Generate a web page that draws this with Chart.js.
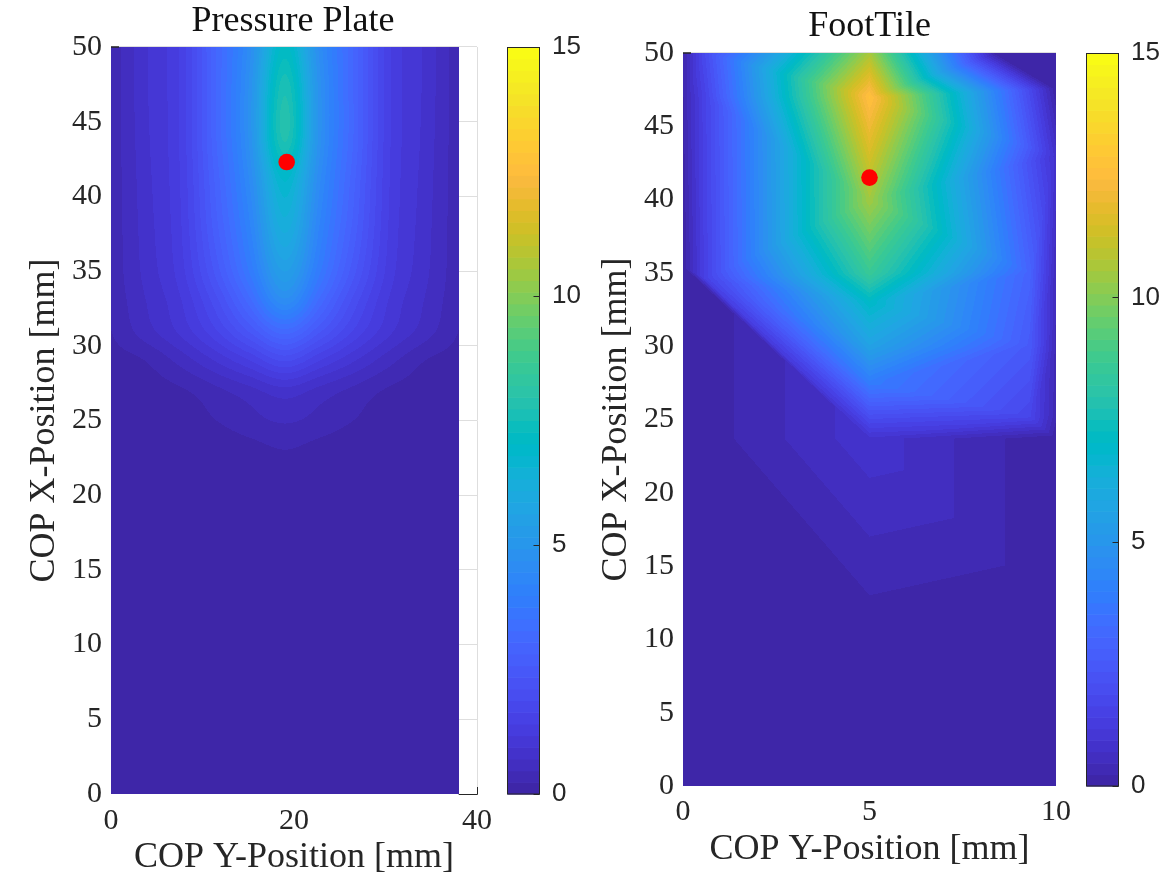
<!DOCTYPE html>
<html>
<head>
<meta charset="utf-8">
<script src="https://cdn.jsdelivr.net/npm/chart.js@4.4.1/dist/chart.umd.min.js"></script>
<style>
  html, body { margin: 0; padding: 0; background: #fff; overflow: hidden; }
  #wrap { position: relative; width: 1172px; height: 879px; }
  canvas { position: absolute; top: 0; }
  #plate { left: 0; }
  #foot { left: 567px; }
</style>
</head>
<body>
<div id="wrap">
  <canvas id="plate" width="586" height="879"></canvas>
  <canvas id="foot" width="605" height="879"></canvas>
</div>
<script>
// ---- data ----
const colorLimits = [0, 15];
const colorTicks = [0, 5, 10, 15];

// pressure plate grid: columns = COP Y-position, rows = COP X-position
const plateCols = [0, 3.8, 7.6, 11.4, 15.2, 19, 22.8, 26.6, 30.4, 34.2, 38];
const plateRows = [0, 10, 20, 23, 25, 27, 29, 31, 33, 35, 38, 41, 44, 47, 50];
const plateValues = [
    [0, 0, 0, 0, 0, 0, 0, 0, 0, 0, 0],
    [0, 0, 0, 0, 0, 0, 0, 0, 0, 0, 0],
    [0, 0, 0, 0, 0.02, 0.05, 0.02, 0, 0, 0, 0],
    [0, 0, 0.02, 0.08, 0.15, 0.23, 0.15, 0.08, 0.02, 0, 0],
    [0, 0.05, 0.1, 0.23, 0.38, 0.5, 0.38, 0.23, 0.1, 0.05, 0],
    [0.05, 0.12, 0.2, 0.4, 0.62, 0.85, 0.62, 0.4, 0.2, 0.12, 0.05],
    [0.12, 0.24, 0.55, 0.95, 1.4, 1.9, 1.4, 0.95, 0.55, 0.24, 0.12],
    [0.23, 0.6, 1.0, 1.6, 2.4, 3.2, 2.4, 1.6, 1.0, 0.6, 0.23],
    [0.28, 0.7, 1.15, 2.0, 3.2, 4.6, 3.2, 2.0, 1.15, 0.7, 0.28],
    [0.3, 0.78, 1.3, 2.4, 3.8, 5.4, 3.8, 2.4, 1.3, 0.78, 0.3],
    [0.3, 0.82, 1.38, 2.7, 4.2, 6.2, 4.2, 2.7, 1.38, 0.82, 0.3],
    [0.3, 0.85, 1.42, 2.85, 4.5, 6.8, 4.5, 2.85, 1.42, 0.85, 0.3],
    [0.3, 0.88, 1.45, 3.0, 4.8, 7.8, 4.8, 3.0, 1.45, 0.88, 0.3],
    [0.3, 0.9, 1.45, 3.0, 4.8, 7.7, 4.8, 3.0, 1.45, 0.9, 0.3],
    [0.3, 0.9, 1.45, 3.0, 4.6, 7.1, 4.6, 3.0, 1.45, 0.9, 0.3]
];
const plateCop = [{x: 19.2, y: 42.3}];

// foottile sensor nodes (linear interpolation over triangles)
const footX = [0, 5, 10, 5, 10, 0, 5, 10, 0, 5, 9.3, 10, 5, 5, 9.3, 10, 5, 5, 9.3, 10, 5, 0, 5, 10, 10, 0, 5, 8.4, 10, 0.6, 0.6, 0.6];
const footY = [0, 0, 0, 9, 11.8, 23.7, 23.7, 23.7, 35.4, 25.2, 25.2, 25.2, 27.5, 30, 30, 30, 33, 35, 35, 35, 40, 47, 47, 43, 47.6, 50, 50, 50, 50, 34.6, 47, 50];
const footV = [0, 0, 0, 0, 0, 0, 0.86, 0, 0, 2.0, 1.7, 0.3, 3.9, 5.6, 2.5, 0.4, 7.0, 8.6, 2.9, 0.5, 10.5, 0.2, 12.7, 0.8, 0, 0.2, 10.6, 0, 0, 1.5, 1.6, 1.9];
const footTris = [
    [0, 1, 3], [0, 3, 5], [5, 3, 6],
    [1, 2, 4], [1, 4, 3], [3, 4, 6], [6, 4, 7],
    [5, 6, 8],
    [8, 6, 29], [29, 6, 9], [29, 9, 12], [29, 12, 13], [29, 13, 16], [29, 16, 17], [29, 17, 20], [29, 20, 30],
    [8, 29, 21], [21, 29, 30], [21, 30, 31], [21, 31, 25],
    [30, 20, 22], [30, 22, 31], [31, 22, 26],
    [6, 7, 10], [6, 10, 9], [7, 11, 10],
    [9, 10, 12], [12, 10, 14], [12, 14, 13],
    [10, 11, 15], [10, 15, 14],
    [13, 14, 16], [16, 14, 18], [16, 18, 17],
    [14, 15, 19], [14, 19, 18],
    [17, 18, 20], [18, 19, 23], [18, 23, 20],
    [20, 23, 22], [22, 23, 24],
    [22, 24, 27], [22, 27, 26], [27, 24, 28]
];
const footCop = [{x: 5.0, y: 41.5}];

// parula, 64 steps
const parula = [
    [0.2422,0.1504,0.6603],[0.2504,0.1650,0.7076],[0.2578,0.1818,0.7511],[0.2647,0.1978,0.7952],
    [0.2706,0.2147,0.8364],[0.2751,0.2342,0.8710],[0.2783,0.2559,0.8991],[0.2803,0.2782,0.9221],
    [0.2813,0.3006,0.9414],[0.2810,0.3228,0.9579],[0.2795,0.3447,0.9717],[0.2760,0.3667,0.9829],
    [0.2699,0.3892,0.9906],[0.2602,0.4123,0.9952],[0.2440,0.4358,0.9988],[0.2206,0.4603,0.9973],
    [0.1963,0.4847,0.9892],[0.1834,0.5074,0.9798],[0.1786,0.5289,0.9682],[0.1764,0.5499,0.9520],
    [0.1687,0.5703,0.9359],[0.1540,0.5902,0.9218],[0.1460,0.6091,0.9079],[0.1380,0.6276,0.8973],
    [0.1248,0.6459,0.8883],[0.1113,0.6635,0.8763],[0.0952,0.6798,0.8598],[0.0689,0.6948,0.8394],
    [0.0297,0.7082,0.8163],[0.0036,0.7203,0.7917],[0.0067,0.7312,0.7660],[0.0433,0.7411,0.7394],
    [0.0964,0.7500,0.7120],[0.1408,0.7584,0.6842],[0.1717,0.7670,0.6554],[0.1938,0.7758,0.6251],
    [0.2161,0.7843,0.5923],[0.2470,0.7918,0.5567],[0.2906,0.7973,0.5188],[0.3406,0.8008,0.4789],
    [0.3909,0.8029,0.4354],[0.4456,0.8024,0.3909],[0.5044,0.7993,0.3480],[0.5616,0.7942,0.3045],
    [0.6174,0.7876,0.2612],[0.6720,0.7793,0.2227],[0.7242,0.7698,0.1910],[0.7738,0.7598,0.1646],
    [0.8203,0.7498,0.1535],[0.8634,0.7406,0.1596],[0.9035,0.7330,0.1774],[0.9393,0.7288,0.2100],
    [0.9728,0.7298,0.2394],[0.9956,0.7434,0.2371],[0.9970,0.7659,0.2199],[0.9952,0.7893,0.2028],
    [0.9892,0.8136,0.1885],[0.9786,0.8386,0.1766],[0.9676,0.8639,0.1643],[0.9610,0.8890,0.1537],
    [0.9597,0.9135,0.1423],[0.9628,0.9373,0.1265],[0.9691,0.9606,0.1064],[0.9769,0.9839,0.0805]
].map(c => c.map(v => Math.round(v * 255)));

const SERIF = "'Liberation Serif', 'Times New Roman', serif";
const SANS = "'Liberation Sans', Arial, sans-serif";
const INK = '#262626';
const GRID = '#dedede';

function shade(v) {
    let i = Math.floor((v - colorLimits[0]) / (colorLimits[1] - colorLimits[0]) * parula.length);
    i = Math.max(0, Math.min(parula.length - 1, i));
    return parula[i];
}

// cubic hermite through the grid nodes
function hermite(ts, ps, t) {
    const n = ts.length;
    if (t <= ts[0]) return ps[0];
    if (t >= ts[n - 1]) return ps[n - 1];
    let k = 0;
    while (t > ts[k + 1]) k++;
    const slope = i => i === 0 ? (ps[1] - ps[0]) / (ts[1] - ts[0])
        : i === n - 1 ? (ps[n - 1] - ps[n - 2]) / (ts[n - 1] - ts[n - 2])
        : (ps[i + 1] - ps[i - 1]) / (ts[i + 1] - ts[i - 1]);
    const h = ts[k + 1] - ts[k], s = (t - ts[k]) / h;
    const s2 = s * s, s3 = s2 * s;
    return (2 * s3 - 3 * s2 + 1) * ps[k] + (s3 - 2 * s2 + s) * h * slope(k)
        + (-2 * s3 + 3 * s2) * ps[k + 1] + (s3 - s2) * h * slope(k + 1);
}

const plateField = {
    id: 'plateField',
    beforeDatasetsDraw(chart) {
        const {ctx, chartArea: a, scales: {x, y}} = chart;
        const left = Math.round(a.left), top = Math.round(a.top);
        const right = Math.round(x.getPixelForValue(plateCols[plateCols.length - 1]));
        const w = right - left, h = Math.round(a.bottom) - top;
        const img = ctx.createImageData(w, h);
        const cols = [];
        for (let i = 0; i < w; i++) {
            const xv = x.getValueForPixel(left + i + 0.5);
            cols.push(plateRows.map((_, r) => hermite(plateCols, plateValues[r], xv)));
        }
        for (let j = 0; j < h; j++) {
            const yv = y.getValueForPixel(top + j + 0.5);
            for (let i = 0; i < w; i++) {
                const c = shade(hermite(plateRows, cols[i], yv));
                const p = (j * w + i) * 4;
                img.data[p] = c[0]; img.data[p + 1] = c[1]; img.data[p + 2] = c[2]; img.data[p + 3] = 255;
            }
        }
        ctx.putImageData(img, left, top);
    }
};

const footField = {
    id: 'footField',
    beforeDatasetsDraw(chart) {
        const {ctx, chartArea: a, scales: {x, y}} = chart;
        const left = Math.round(a.left), top = Math.round(a.top);
        const w = Math.round(a.right) - left, h = Math.round(a.bottom) - top;
        const img = ctx.createImageData(w, h);
        const px = footX.map(v => x.getPixelForValue(v) - left);
        const py = footY.map(v => y.getPixelForValue(v) - top);
        footTris.forEach(([p, q, r]) => {
            const x1 = px[p], y1 = py[p], x2 = px[q], y2 = py[q], x3 = px[r], y3 = py[r];
            const det = (y2 - y3) * (x1 - x3) + (x3 - x2) * (y1 - y3);
            const i0 = Math.max(0, Math.floor(Math.min(x1, x2, x3))), i1 = Math.min(w - 1, Math.ceil(Math.max(x1, x2, x3)));
            const j0 = Math.max(0, Math.floor(Math.min(y1, y2, y3))), j1 = Math.min(h - 1, Math.ceil(Math.max(y1, y2, y3)));
            for (let j = j0; j <= j1; j++) {
                const cy = j + 0.5;
                for (let i = i0; i <= i1; i++) {
                    const cx = i + 0.5;
                    const l1 = ((y2 - y3) * (cx - x3) + (x3 - x2) * (cy - y3)) / det;
                    const l2 = ((y3 - y1) * (cx - x3) + (x1 - x3) * (cy - y3)) / det;
                    const l3 = 1 - l1 - l2;
                    if (l1 < -1e-6 || l2 < -1e-6 || l3 < -1e-6) continue;
                    const c = shade(l1 * footV[p] + l2 * footV[q] + l3 * footV[r]);
                    const k = (j * w + i) * 4;
                    img.data[k] = c[0]; img.data[k + 1] = c[1]; img.data[k + 2] = c[2]; img.data[k + 3] = 255;
                }
            }
        });
        ctx.putImageData(img, left, top);
    }
};

// colorbar, top grid line and the few visible tick marks
const decorations = {
    id: 'decorations',
    afterDraw(chart) {
        const {ctx, chartArea: a, scales: {x, cb}} = chart;
        ctx.save();
        ctx.strokeStyle = GRID;
        ctx.lineWidth = 1;
        ctx.beginPath();
        ctx.moveTo(a.left, a.top - 0.5);
        ctx.lineTo(a.right, a.top - 0.5);
        ctx.stroke();

        ctx.strokeStyle = INK;
        ctx.lineWidth = 1.5;
        ctx.beginPath();
        ctx.moveTo(a.left, a.top);
        ctx.lineTo(a.left + 8, a.top);
        ctx.stroke();

        const opts = chart.options.plugins.decorations;
        if (opts.dataEnd < x.max) {
            ctx.lineWidth = 1;
            ctx.beginPath();
            ctx.moveTo(x.getPixelForValue(opts.dataEnd), a.bottom + 0.5);
            ctx.lineTo(a.right + 0.5, a.bottom + 0.5);
            ctx.lineTo(a.right + 0.5, a.bottom - 7);
            ctx.stroke();
        }

        const bx = a.right + 30.5, bw = 32, n = parula.length;
        const step = (colorLimits[1] - colorLimits[0]) / n;
        for (let k = 0; k < n; k++) {
            const y1 = cb.getPixelForValue(colorLimits[0] + (k + 1) * step);
            const y0 = cb.getPixelForValue(colorLimits[0] + k * step);
            ctx.fillStyle = 'rgb(' + parula[k].join(',') + ')';
            ctx.fillRect(bx, y1, bw, y0 - y1 + 0.6);
        }
        ctx.strokeStyle = INK;
        ctx.lineWidth = 1;
        ctx.strokeRect(bx, a.top + 0.5, bw, a.bottom - a.top - 0.5);
        colorTicks.forEach(t => {
            const ty = Math.round(cb.getPixelForValue(t)) + 0.5;
            ctx.beginPath();
            ctx.moveTo(bx + bw, ty);
            ctx.lineTo(bx + bw - 6, ty);
            ctx.stroke();
        });
        ctx.restore();
    }
};

// fixed box sizes; drop the label overhang padding so the chart area stays put
function fixBox(size, horizontal) {
    return s => {
        if (horizontal) s.height = size; else s.width = size;
        s.paddingTop = 0; s.paddingBottom = 0; s.paddingLeft = 0; s.paddingRight = 0;
    };
}

function panel(id, cfg) {
    return new Chart(document.getElementById(id), {
        type: 'scatter',
        data: {
            datasets: [{
                data: cfg.cop,
                pointRadius: 8.3,
                pointBackgroundColor: '#ff0000',
                pointBorderWidth: 0,
                clip: false
            }]
        },
        options: {
            responsive: false,
            animation: false,
            devicePixelRatio: 1,
            events: [],
            layout: { autoPadding: false, padding: 0 },
            plugins: {
                legend: { display: false },
                tooltip: { enabled: false },
                title: {
                    display: true,
                    text: cfg.title,
                    color: '#111',
                    font: { family: SERIF, size: 36, weight: 'normal' },
                    padding: cfg.titlePad
                },
                decorations: { dataEnd: cfg.dataEnd }
            },
            scales: {
                x: {
                    type: 'linear',
                    min: 0, max: cfg.xMax,
                    ticks: { stepSize: cfg.xStep, color: INK, padding: cfg.xTickPad, font: { family: SERIF, size: 30 } },
                    grid: { drawTicks: false, color: c => (c.tick && c.tick.value === cfg.xMax && cfg.dataEnd < cfg.xMax) ? GRID : 'transparent' },
                    border: { display: false },
                    title: {
                        display: true,
                        text: 'COP Y-Position [mm]',
                        color: INK,
                        font: { family: SERIF, size: 36 },
                        padding: { top: 0, bottom: cfg.xTitlePad }
                    },
                    afterFit: fixBox(cfg.xHeight, true)
                },
                y: {
                    type: 'linear',
                    min: 0, max: 50,
                    ticks: { stepSize: 5, color: INK, padding: 9, font: { family: SERIF, size: 30 } },
                    grid: { drawTicks: false, color: c => (c.tick && (c.tick.value === 0 || c.tick.value === 50)) ? 'transparent' : GRID },
                    border: { display: false },
                    title: {
                        display: true,
                        text: 'COP X-Position [mm]',
                        color: INK,
                        font: { family: SERIF, size: 36 },
                        padding: { top: cfg.yTitlePad, bottom: 0 }
                    },
                    afterFit: fixBox(cfg.yWidth, false)
                },
                cb: {
                    type: 'linear',
                    axis: 'y',
                    position: 'right',
                    min: colorLimits[0], max: colorLimits[1],
                    ticks: { stepSize: 5, color: INK, padding: 75, font: { family: SANS, size: 26 } },
                    grid: { display: false, drawTicks: false },
                    border: { display: false },
                    afterFit: fixBox(cfg.cbWidth, false)
                }
            }
        },
        plugins: [cfg.field, decorations]
    });
}

panel('plate', {
    title: 'Pressure Plate', cop: plateCop, field: plateField,
    xMax: 40, xStep: 20, dataEnd: plateCols[plateCols.length - 1],
    titlePad: { top: 0, bottom: 3.8 },
    xHeight: 85, xTickPad: 9, xTitlePad: 0,
    yWidth: 111, yTitlePad: 23, cbWidth: 109
});

panel('foot', {
    title: 'FootTile', cop: footCop, field: footField,
    xMax: 10, xStep: 5, dataEnd: 10,
    titlePad: { top: 5, bottom: 4.8 },
    xHeight: 93, xTickPad: 8.5, xTitlePad: 7.4,
    yWidth: 116, yTitlePad: 28, cbWidth: 116
});
</script>
</body>
</html>
